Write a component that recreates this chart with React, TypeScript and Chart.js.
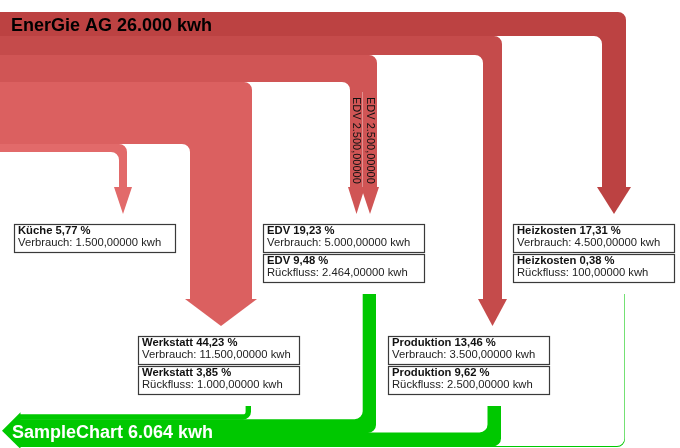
import React, { useEffect, useRef } from "react";
import { Chart, registerables } from "chart.js";

Chart.register(...registerables);

// ---------------- DATA ----------------
const sourceName = "EnerGie AG";
const sinkName = "SampleChart";
const unit = "kwh";
const nodeNames = ["Küche", "EDV", "Werkstatt", "Produktion", "Heizkosten"];
const consumption = [1500, 5000, 11500, 3500, 4500];
const returnFlows = [0, 2464, 1000, 2500, 100];
const edvParts = [2500, 2500];
const consumptionLabel = "Verbrauch";
const returnLabel = "Rückfluss";

// ---------------- LAYOUT / STYLE ----------------
const LAYOUT = {
  width: 680,
  height: 448,
  kwhAxisMax: 83000,
  bandTop: 12,
  colRight: [127, 377, 252, 502, 626],
  boxLeft: [14, 263, 138, 388, 513],
  row: [0, 0, 1, 1, 0],
  rowBoxTop: [224, 336],
  boxW: 161,
  boxH: 28,
  boxGap: 2,
  arrowLen: 27,
  arrowGap: 10,
  arrowFlare: 5,
  splitArrowFlare: 2,
  splitLabelOffset: 15,
  returnGap: 12,
  returnInset: 1,
  sinkBottom: 447,
  sinkArrowX: 20,
  sinkTipX: 2,
  sinkArrowFlare: 2,
  radius: 8,
};

const COLORS = {
  flows: ["#E26A6A", "#D05555", "#DB6060", "#C54B4B", "#BC4242"],
  green: "#00C800",
  boxBorder: "#3a3a3a",
  text: "#111111",
};

const FONT = '"Liberation Sans", Arial, sans-serif';

function deNum(v: number, dec: number): string {
  const [i, f] = v.toFixed(dec).split(".");
  const int = i.replace(/\B(?=(\d{3})+(?!\d))/g, ".");
  return f ? int + "," + f : int;
}

const total = consumption.reduce((a, b) => a + b, 0);
const sinkTotal = returnFlows.reduce((a, b) => a + b, 0);
const pct = (v: number) => deNum((v / total) * 100, 2) + " %";

const sankeyPlugin = {
  id: "sankeyFlows",
  afterDraw(chart: any) {
    const ctx: CanvasRenderingContext2D = chart.ctx;
    const xs = chart.scales.x;
    const ys = chart.scales.y;
    const ks = chart.scales.kwh;
    const X = (v: number) => xs.getPixelForValue(v);
    const Y = (v: number) => ys.getPixelForValue(v);
    const LX = (v: number) => X(v) - X(0);
    const LY = (v: number) => Y(v) - Y(0);
    const T = (v: number) => Math.abs(ks.getPixelForValue(v) - ks.getPixelForValue(0));
    const R = LX(LAYOUT.radius);
    const x0 = X(0);

    ctx.save();
    ctx.fillStyle = "#ffffff";
    ctx.fillRect(0, 0, chart.width, chart.height);

    // -------- outgoing (red) flows --------
    const topOrder = nodeNames
      .map((_, i) => i)
      .sort((a, b) => LAYOUT.colRight[b] - LAYOUT.colRight[a]);
    const yStart0 = Y(LAYOUT.bandTop);
    let cum = 0;
    for (const i of topOrder) {
      const yT = Math.round(yStart0 + T(cum));
      cum += consumption[i];
      const yB = Math.round(yStart0 + T(cum));
      const xR = Math.round(X(LAYOUT.colRight[i]));
      const xL = Math.round(xR - T(consumption[i]));
      const w = xR - xL;
      const row = LAYOUT.row[i];
      const tip = Y(LAYOUT.rowBoxTop[row] - LAYOUT.arrowGap);
      const head = tip - LY(LAYOUT.arrowLen);
      const r1 = Math.min(R, w);
      const r2 = R;
      ctx.fillStyle = COLORS.flows[i];
      ctx.beginPath();
      ctx.moveTo(x0, yT);
      ctx.lineTo(xR - r1, yT);
      ctx.arcTo(xR, yT, xR, yT + r1, r1);
      ctx.lineTo(xR, head + 0.5);
      ctx.lineTo(xL, head + 0.5);
      ctx.lineTo(xL, yB + r2);
      ctx.arcTo(xL, yB, xL - r2, yB, r2);
      ctx.lineTo(x0, yB);
      ctx.closePath();
      ctx.fill();

      const parts = i === 1 ? edvParts : [consumption[i]];
      const flare = LX(parts.length > 1 ? LAYOUT.splitArrowFlare : LAYOUT.arrowFlare);
      let pcum = 0;
      parts.forEach((p, k) => {
        const px = Math.round(xL + T(pcum));
        pcum += p;
        const pe = k === parts.length - 1 ? xR : Math.round(xL + T(pcum));
        const pw = pe - px;
        ctx.beginPath();
        ctx.moveTo(px - flare, head);
        ctx.lineTo(pe + flare, head);
        ctx.lineTo(px + pw / 2, tip);
        ctx.closePath();
        ctx.fill();
        if (parts.length > 1) {
          ctx.save();
          ctx.translate(px + pw / 2, yB + LY(LAYOUT.splitLabelOffset));
          ctx.rotate(Math.PI / 2);
          ctx.fillStyle = COLORS.text;
          ctx.font = `11px ${FONT}`;
          ctx.textAlign = "left";
          ctx.textBaseline = "middle";
          ctx.fillText(`${nodeNames[i]} ${deNum(p, 5)}`, 0, 0);
          ctx.restore();
          if (k > 0) {
            ctx.strokeStyle = "rgba(255,255,255,0.35)";
            ctx.lineWidth = 1;
            ctx.beginPath();
            ctx.moveTo(px - 0.5, yB + 10);
            ctx.lineTo(px - 0.5, head);
            ctx.stroke();
          }
          ctx.fillStyle = COLORS.flows[i];
        }
      });
    }

    // title
    ctx.fillStyle = "#000";
    ctx.font = `bold 18px ${FONT}`;
    ctx.textAlign = "left";
    ctx.textBaseline = "alphabetic";
    ctx.fillText(`${sourceName} ${deNum(total, 0)} ${unit}`, X(11), Y(31));

    // -------- return (green) flows --------
    const sinkOrder = nodeNames
      .map((_, i) => i)
      .filter((i) => returnFlows[i] > 0)
      .sort((a, b) => LAYOUT.colRight[a] - LAYOUT.colRight[b]);
    const sinkB = Y(LAYOUT.sinkBottom);
    const sinkT = sinkB - T(sinkTotal);
    const xA = X(LAYOUT.sinkArrowX);
    let sy = sinkT;
    ctx.fillStyle = COLORS.green;
    sinkOrder.forEach((i, n) => {
      const w = T(returnFlows[i]);
      const yT = sy - (n > 0 ? 0.5 : 0);
      const yB = sy + w;
      sy = yB;
      const xR = X(LAYOUT.colRight[i]) - LX(LAYOUT.returnInset);
      const xL = xR - w;
      const row = LAYOUT.row[i];
      const yStart = Y(
        LAYOUT.rowBoxTop[row] + 2 * LAYOUT.boxH + LAYOUT.boxGap + LAYOUT.returnGap
      );
      const r1 = Math.min(R, yB - yStart);
      const r2 = w < R ? R - w : R;
      ctx.beginPath();
      ctx.moveTo(xL, yStart);
      ctx.lineTo(xR, yStart);
      ctx.lineTo(xR, yB - r1);
      ctx.arcTo(xR, yB, xR - r1, yB, r1);
      ctx.lineTo(xA, yB);
      ctx.lineTo(xA, yT);
      ctx.lineTo(xL - r2, yT);
      ctx.arcTo(xL, yT, xL, yT - r2, r2);
      ctx.closePath();
      ctx.fill();
    });
    // sink arrow head
    const sf = LY(LAYOUT.sinkArrowFlare);
    ctx.beginPath();
    ctx.moveTo(xA + 0.5, sinkT - sf);
    ctx.lineTo(X(LAYOUT.sinkTipX), (sinkT + sinkB) / 2);
    ctx.lineTo(xA + 0.5, sinkB + sf);
    ctx.closePath();
    ctx.fill();
    ctx.fillStyle = "#ffffff";
    ctx.font = `bold 18px ${FONT}`;
    ctx.fillText(`${sinkName} ${deNum(sinkTotal, 0)} ${unit}`, X(12), Y(438));

    // -------- node boxes --------
    const drawBox = (left: number, top: number, title: string, line: string) => {
      const bx = Math.round(X(left)) + 0.5;
      const by = Math.round(Y(top)) + 0.5;
      const bw = LX(LAYOUT.boxW);
      const bh = LY(LAYOUT.boxH);
      ctx.fillStyle = "#ffffff";
      ctx.fillRect(bx, by, bw, bh);
      ctx.strokeStyle = COLORS.boxBorder;
      ctx.lineWidth = 1.2;
      ctx.strokeRect(bx, by, bw, bh);
      ctx.fillStyle = COLORS.text;
      ctx.textAlign = "left";
      ctx.textBaseline = "alphabetic";
      ctx.font = `bold 11.25px ${FONT}`;
      ctx.fillText(title, X(left + 4), Y(top + 10));
      ctx.fillStyle = "#222";
      ctx.font = `11.25px ${FONT}`;
      ctx.fillText(line, X(left + 4), Y(top + 22));
    };
    nodeNames.forEach((name, i) => {
      const top = LAYOUT.rowBoxTop[LAYOUT.row[i]];
      drawBox(
        LAYOUT.boxLeft[i],
        top,
        `${name} ${pct(consumption[i])}`,
        `${consumptionLabel}: ${deNum(consumption[i], 5)} ${unit}`
      );
      if (returnFlows[i] > 0) {
        drawBox(
          LAYOUT.boxLeft[i],
          top + LAYOUT.boxH + LAYOUT.boxGap,
          `${name} ${pct(returnFlows[i])}`,
          `${returnLabel}: ${deNum(returnFlows[i], 5)} ${unit}`
        );
      }
    });

    ctx.restore();
  },
};

export default function App() {
  const ref = useRef<HTMLCanvasElement>(null);
  useEffect(() => {
    document.body.style.margin = "0";
    const canvas = ref.current!;
    const chart = new Chart(canvas, {
      type: "scatter",
      data: { datasets: [] },
      options: {
        animation: false,
        responsive: false,
        devicePixelRatio: 1,
        layout: { padding: 0 },
        plugins: {
          legend: { display: false },
          tooltip: { enabled: false },
          title: { display: false },
        },
        scales: {
          x: { type: "linear", display: false, min: 0, max: LAYOUT.width },
          y: { type: "linear", display: false, min: 0, max: LAYOUT.height, reverse: true },
          kwh: { type: "linear", axis: "y", display: false, min: 0, max: LAYOUT.kwhAxisMax },
        },
      } as any,
      plugins: [sankeyPlugin],
    });
    return () => chart.destroy();
  }, []);
  return (
    <div style={{ width: LAYOUT.width, height: LAYOUT.height }}>
      <canvas
        ref={ref}
        width={LAYOUT.width}
        height={LAYOUT.height}
        style={{ display: "block" }}
      />
    </div>
  );
}
